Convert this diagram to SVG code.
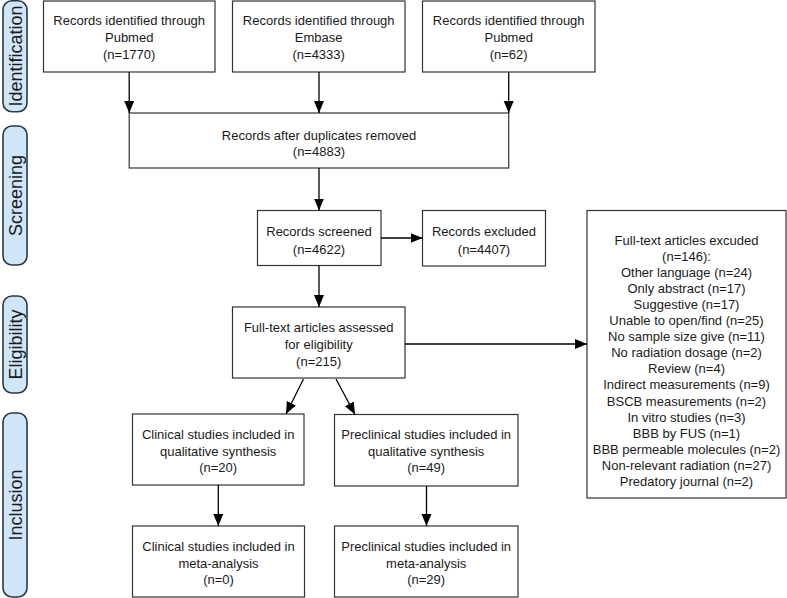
<svg xmlns="http://www.w3.org/2000/svg" width="787" height="598" viewBox="0 0 787 598">
<defs>
<marker id="ah" markerUnits="userSpaceOnUse" markerWidth="12" markerHeight="12" viewBox="0 0 12 12" refX="12" refY="6" orient="auto">
<path d="M0,1 L12,6 L0,11 Z" fill="#000"/>
</marker>
<style>
.box{fill:#fff;stroke:#333;stroke-width:1.2}
.lab{fill:#cfe6f9;stroke:#2b3947;stroke-width:1.6}
.t{font-family:"Liberation Sans",Arial,sans-serif;font-size:13px;fill:#1a1a1a;text-anchor:middle}
.s{font-family:"Liberation Sans",Arial,sans-serif;font-size:18px;fill:#1a1a1a;text-anchor:middle}
.c{stroke:#000;stroke-width:1.3;fill:none;marker-end:url(#ah)}
</style>
</defs>
<rect width="787" height="598" fill="#fff"/>
<g id="phase-identification"><rect class="lab" x="3" y="0.8" width="24" height="111" rx="9"/><text class="s" transform="translate(21.5,56) rotate(-90)">Identification</text></g>
<g id="phase-screening"><rect class="lab" x="3" y="126" width="24" height="139" rx="9"/><text class="s" transform="translate(21.5,195.5) rotate(-90)">Screening</text></g>
<g id="phase-eligibility"><rect class="lab" x="3" y="296" width="24" height="97" rx="9"/><text class="s" transform="translate(21.5,344.5) rotate(-90)">Eligibility</text></g>
<g id="phase-inclusion"><rect class="lab" x="3" y="413" width="24" height="184" rx="9"/><text class="s" transform="translate(21.5,505) rotate(-90)">Inclusion</text></g>

<g id="n-pubmed1"><rect class="box" x="43.5" y="1" width="171.5" height="71"/><text class="t" x="129.2" y="25">Records identified through</text><text class="t" x="129.2" y="42">Pubmed</text><text class="t" x="129.2" y="59">(n=1770)</text></g>
<g id="n-embase"><rect class="box" x="232.5" y="1" width="172.5" height="71"/><text class="t" x="318.7" y="25">Records identified through</text><text class="t" x="318.7" y="42">Embase</text><text class="t" x="318.7" y="59">(n=4333)</text></g>
<g id="n-pubmed2"><rect class="box" x="422.5" y="1" width="172.5" height="71"/><text class="t" x="508.7" y="25">Records identified through</text><text class="t" x="508.7" y="42">Pubmed</text><text class="t" x="508.7" y="59">(n=62)</text></g>
<g id="n-dupes"><rect class="box" x="129.2" y="113" width="379.5" height="55"/><text class="t" x="319" y="139.5">Records after duplicates removed</text><text class="t" x="319" y="156">(n=4883)</text></g>
<g id="n-screened"><rect class="box" x="257.5" y="210.5" width="123.5" height="55"/><text class="t" x="319" y="236">Records screened</text><text class="t" x="319" y="253.5">(n=4622)</text></g>
<g id="n-excluded"><rect class="box" x="422.5" y="210.5" width="123" height="55.5"/><text class="t" x="484" y="236">Records excluded</text><text class="t" x="484" y="253.5">(n=4407)</text></g>
<g id="n-fulltext"><rect class="box" x="232.5" y="307" width="172.5" height="71"/><text class="t" x="318.7" y="331.5">Full-text articles assessed</text><text class="t" x="318.7" y="348.5">for eligibility</text><text class="t" x="318.7" y="365.5">(n=215)</text></g>
<g id="n-ftexcluded"><rect class="box" x="587" y="210.5" width="199" height="287.5"/>
<text class="t" x="686.5" y="244.5">Full-text articles excuded</text>
<text class="t" x="686.5" y="260.6">(n=146):</text>
<text class="t" x="686.5" y="276.7">Other language (n=24)</text>
<text class="t" x="686.5" y="292.8">Only abstract (n=17)</text>
<text class="t" x="686.5" y="308.9">Suggestive (n=17)</text>
<text class="t" x="686.5" y="325">Unable to open/find (n=25)</text>
<text class="t" x="686.5" y="341.1">No sample size give (n=11)</text>
<text class="t" x="686.5" y="357.2">No radiation dosage (n=2)</text>
<text class="t" x="686.5" y="373.3">Review (n=4)</text>
<text class="t" x="686.5" y="389.4">Indirect measurements (n=9)</text>
<text class="t" x="686.5" y="405.5">BSCB measurements (n=2)</text>
<text class="t" x="686.5" y="421.6">In vitro studies (n=3)</text>
<text class="t" x="686.5" y="437.7">BBB by FUS (n=1)</text>
<text class="t" x="686.5" y="453.8">BBB permeable molecules (n=2)</text>
<text class="t" x="686.5" y="469.9">Non-relevant radiation (n=27)</text>
<text class="t" x="686.5" y="486">Predatory journal (n=2)</text>
</g>
<g id="n-clin-qual"><rect class="box" x="132.5" y="414" width="171.5" height="71"/><text class="t" x="218.2" y="438.5">Clinical studies included in</text><text class="t" x="218.2" y="455.5">qualitative synthesis</text><text class="t" x="218.2" y="472">(n=20)</text></g>
<g id="n-pre-qual"><rect class="box" x="334.5" y="414.5" width="183.5" height="71.5"/><text class="t" x="426.2" y="438.5">Preclinical studies included in</text><text class="t" x="426.2" y="455.5">qualitative synthesis</text><text class="t" x="426.2" y="472">(n=49)</text></g>
<g id="n-clin-meta"><rect class="box" x="132.5" y="526" width="172" height="71"/><text class="t" x="218.5" y="551">Clinical studies included in</text><text class="t" x="218.5" y="567.5">meta-analysis</text><text class="t" x="218.5" y="584">(n=0)</text></g>
<g id="n-pre-meta"><rect class="box" x="334.5" y="526" width="183.5" height="71"/><text class="t" x="426.2" y="551">Preclinical studies included in</text><text class="t" x="426.2" y="567.5">meta-analysis</text><text class="t" x="426.2" y="584">(n=29)</text></g>

<g id="connectors">
<line class="c" x1="129.2" y1="72" x2="129.2" y2="113"/>
<line class="c" x1="319" y1="72" x2="319" y2="113"/>
<line class="c" x1="508.7" y1="72" x2="508.7" y2="113"/>
<line class="c" x1="319" y1="168" x2="319" y2="210.5"/>
<line class="c" x1="381" y1="238" x2="422.5" y2="238"/>
<line class="c" x1="319" y1="265.5" x2="319" y2="307"/>
<line class="c" x1="405" y1="344" x2="587" y2="344"/>
<line class="c" x1="303.5" y1="379" x2="286" y2="414"/>
<line class="c" x1="336" y1="379" x2="355" y2="414.5"/>
<line class="c" x1="218.3" y1="485" x2="218.3" y2="526"/>
<line class="c" x1="426.5" y1="486" x2="426.5" y2="526"/>
</g>
</svg>
